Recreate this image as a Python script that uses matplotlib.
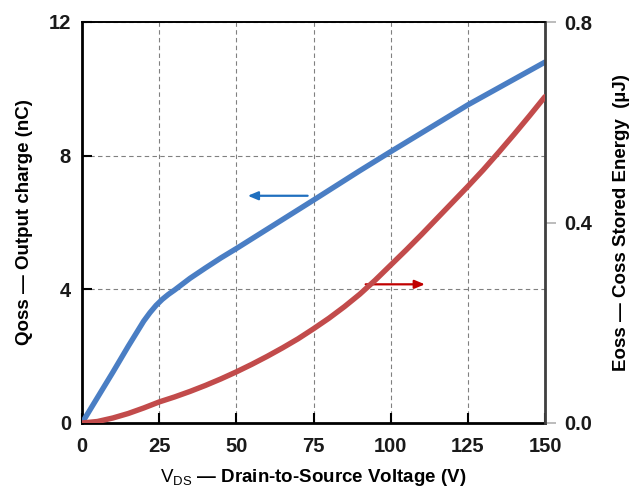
import matplotlib
matplotlib.use("Agg")
import matplotlib.pyplot as plt

plt.rcParams['font.family'] = ['Liberation Sans', 'DejaVu Sans']
plt.rcParams['mathtext.fontset'] = 'custom'
plt.rcParams['mathtext.rm'] = 'Liberation Sans'

# Data
vds_q = [0, 5, 10, 15, 20, 22, 24, 26, 28, 30, 35, 40, 45, 50, 60, 75, 90, 100, 125, 150]
qoss = [0.0, 0.76, 1.52, 2.3, 3.05, 3.3, 3.52, 3.7, 3.85, 3.98, 4.33, 4.64, 4.94, 5.22,
        5.8, 6.67, 7.55, 8.12, 9.52, 10.8]

vds_e = [0, 5, 10, 15, 20, 25, 30, 35, 40, 45, 50, 55, 60, 65, 70, 75, 80, 85, 90, 95,
         100, 105, 110, 115, 120, 125, 130, 135, 140, 145, 150]
eoss = [0.0, 0.003, 0.01, 0.019, 0.03, 0.042, 0.052, 0.063, 0.075, 0.088, 0.102, 0.117,
        0.133, 0.15, 0.168, 0.188, 0.209, 0.232, 0.257, 0.285, 0.315, 0.345, 0.376,
        0.408, 0.44, 0.472, 0.505, 0.54, 0.576, 0.613, 0.651]

x_ticks = [0, 25, 50, 75, 100, 125, 150]
q_ticks = [0, 4, 8, 12]
e_ticks = [0.0, 0.4, 0.8]
e_tick_labels = ['0.0', '0.4', '0.8']

blue = '#4a7ec4'
red = '#c24b4b'

fig = plt.figure(figsize=(6.29, 4.99), dpi=100)
ax = fig.add_axes([82/629, 1-423/499, (545-82)/629, (423-22)/499])
ax2 = ax.twinx()

ax.set_xlim(0, 150)
ax.set_ylim(0, 12)
ax2.set_ylim(0, 0.8)

ax.set_xticks(x_ticks)
ax.set_yticks(q_ticks)
ax2.set_yticks(e_ticks)
ax2.set_yticklabels(e_tick_labels)

ax.grid(True, color='#808080', linestyle=(0, (4, 3)), linewidth=0.8)
ax.set_axisbelow(True)

ax.plot(vds_q, qoss, color=blue, linewidth=3.9, solid_capstyle='round',
        solid_joinstyle='round', zorder=3)
ax2.plot(vds_e, eoss, color=red, linewidth=3.9, solid_capstyle='round',
         solid_joinstyle='round', zorder=3)

# arrows
ax.annotate('', xy=(52.8, 6.8), xytext=(74, 6.8),
            arrowprops=dict(arrowstyle='-|>,head_length=0.6,head_width=0.25', color='#1f6fbf', lw=1.6))
ax.annotate('', xy=(112, 4.15), xytext=(91, 4.15),
            arrowprops=dict(arrowstyle='-|>,head_length=0.6,head_width=0.25', color='#c00000', lw=1.6))

fs = 14.5
for lab in ax.get_xticklabels() + ax.get_yticklabels() + ax2.get_yticklabels():
    lab.set_fontweight('bold')
    lab.set_fontsize(fs)
    lab.set_color('#1a1a1a')

ax.tick_params(axis='both', direction='in', length=7, width=1.5, color='black')
ax.tick_params(axis='x', pad=10)
ax.tick_params(axis='y', pad=8)
ax.tick_params(axis='x', top=False)
ax2.tick_params(axis='y', direction='out', length=8, width=1.2, color='#b0b0b0', pad=6)

for s in ['left', 'bottom']:
    ax.spines[s].set_linewidth(2)
    ax.spines[s].set_color('black')
ax.spines['top'].set_linewidth(1.2)
ax2.spines['top'].set_linewidth(1.2)
ax2.spines['right'].set_linewidth(2)
ax2.spines['right'].set_color('#404040')
ax2.spines['left'].set_visible(False)
ax2.spines['bottom'].set_visible(False)

ax.set_xlabel(r'$\mathrm{V_{DS}}$ — Drain-to-Source Voltage (V)', fontsize=13.5,
              fontweight='bold', labelpad=8)
ax.set_ylabel('Qoss — Output charge (nC)', fontsize=13.5, fontweight='bold', labelpad=11)
ax2.set_ylabel('Eoss — Coss Stored Energy  (µJ)', fontsize=13.5, fontweight='bold', labelpad=15)

fig.savefig('out.png', dpi=100)
